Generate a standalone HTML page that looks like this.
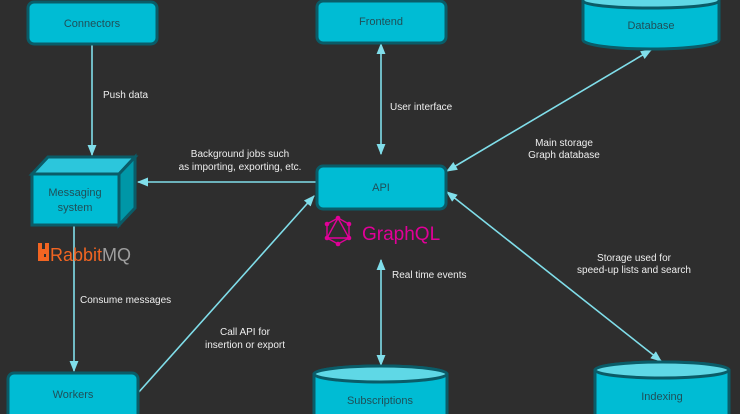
<!DOCTYPE html>
<html><head><meta charset="utf-8"><style>
html,body{margin:0;padding:0;background:#2e2e2e;width:740px;height:414px;overflow:hidden}
svg{display:block}
.lbl{font-family:"Liberation Sans",sans-serif;font-size:10px;fill:#eeeeee}
.nt{font-family:"Liberation Sans",sans-serif;font-size:11px;fill:#1f4f58}
</style></head><body>
<svg width="740" height="414" viewBox="0 0 740 414" xmlns="http://www.w3.org/2000/svg">
<defs>
<marker id="a" viewBox="0 0 10 10" refX="9" refY="5" markerWidth="7" markerHeight="7" orient="auto-start-reverse"><path d="M0,1 L10,5 L0,9 z" fill="#80deea"/></marker>
</defs>
<rect width="740" height="414" fill="#2e2e2e"/>
<g stroke="#80deea" stroke-width="1.6" fill="none">
<line x1="92" y1="44" x2="92" y2="155" marker-end="url(#a)"/>
<line x1="316" y1="182" x2="138" y2="182" marker-end="url(#a)"/>
<line x1="381" y1="154" x2="381" y2="44" marker-start="url(#a)" marker-end="url(#a)"/>
<line x1="447" y1="171" x2="651" y2="50" marker-start="url(#a)" marker-end="url(#a)"/>
<line x1="447" y1="192" x2="661" y2="361" marker-start="url(#a)" marker-end="url(#a)"/>
<line x1="74" y1="225" x2="74" y2="371" marker-end="url(#a)"/>
<line x1="138" y1="393" x2="314" y2="196" marker-end="url(#a)"/>
<line x1="381" y1="260" x2="381" y2="365" marker-start="url(#a)" marker-end="url(#a)"/>
</g>
<g stroke="#0a5c68" stroke-width="3" fill="#00bcd4">
<rect x="28" y="2" width="129" height="42" rx="6"/>
<rect x="317" y="1" width="129" height="42" rx="6"/>
<rect x="317" y="166" width="129" height="43" rx="6"/>
<rect x="8" y="373" width="130" height="50" rx="6"/>
<path d="M583,-10 L583,40 A68,9 0 0 0 719,40 L719,-10 Z"/>
<path d="M314,374 L314,420 L447,420 L447,374 A66.5,8 0 0 0 314,374 Z"/>
<ellipse cx="380.5" cy="374" rx="66.5" ry="8" fill="#5fd8e6"/>
<path d="M595,370 L595,420 L729,420 L729,370 A67,8 0 0 0 595,370 Z"/>
<ellipse cx="662" cy="370" rx="67" ry="8" fill="#5fd8e6"/>
<path d="M32,174 L48,157 L135,157 L119,174 Z" fill="#2cc6dc"/>
<path d="M119,174 L135,157 L135,208 L119,225 Z" fill="#0097a7"/>
<rect x="32" y="174" width="87" height="51"/>
</g>
<path d="M583,-10 L583,1 A68,7 0 0 0 719,1 L719,-10 Z" fill="#5fd8e6" stroke="#0a5c68" stroke-width="3"/>
<text class="nt" x="92" y="27" text-anchor="middle">Connectors</text>
<text class="nt" x="381" y="25" text-anchor="middle">Frontend</text>
<text class="nt" x="651" y="29" text-anchor="middle">Database</text>
<text class="nt" x="381" y="191" text-anchor="middle">API</text>
<text class="nt" x="75" y="196" text-anchor="middle">Messaging</text>
<text class="nt" x="75" y="211" text-anchor="middle">system</text>
<text class="nt" x="73" y="398" text-anchor="middle">Workers</text>
<text class="nt" x="380" y="404" text-anchor="middle">Subscriptions</text>
<text class="nt" x="662" y="400" text-anchor="middle">Indexing</text>
<text class="lbl" x="103" y="98">Push data</text>
<text class="lbl" x="240" y="157" text-anchor="middle">Background jobs such</text>
<text class="lbl" x="240" y="170" text-anchor="middle">as importing, exporting, etc.</text>
<text class="lbl" x="390" y="110">User interface</text>
<text class="lbl" x="564" y="146" text-anchor="middle">Main storage</text>
<text class="lbl" x="564" y="158" text-anchor="middle">Graph database</text>
<text class="lbl" x="634" y="261" text-anchor="middle">Storage used for</text>
<text class="lbl" x="634" y="273" text-anchor="middle">speed-up lists and search</text>
<text class="lbl" x="392" y="278">Real time events</text>
<text class="lbl" x="80" y="303">Consume messages</text>
<text class="lbl" x="245" y="335" text-anchor="middle">Call API for</text>
<text class="lbl" x="245" y="348" text-anchor="middle">insertion or export</text>
<path d="M38,243 h4 v6 h3 v-6 h4 v18 h-11 z" fill="#f26522"/>
<rect x="44" y="254" width="2" height="3" fill="#2e2e2e"/>
<text x="50" y="261" font-family="Liberation Sans,sans-serif" font-size="18" fill="#f26522">Rabbit<tspan fill="#9e9e9e">MQ</tspan></text>
<g stroke="#e10098" stroke-width="1.4" fill="none">
<polygon points="338,218 349,224 349,238 338,244 327,238 327,224"/>
<polygon points="338,218 349,238 327,238"/>
</g>
<g fill="#e10098">
<circle cx="338" cy="218" r="2.3"/><circle cx="349" cy="224" r="2.3"/><circle cx="349" cy="238" r="2.3"/>
<circle cx="338" cy="244" r="2.3"/><circle cx="327" cy="238" r="2.3"/><circle cx="327" cy="224" r="2.3"/>
</g>
<text x="362" y="240" font-family="Liberation Sans,sans-serif" font-size="19" fill="#e10098">GraphQL</text>
</svg>
</body></html>
